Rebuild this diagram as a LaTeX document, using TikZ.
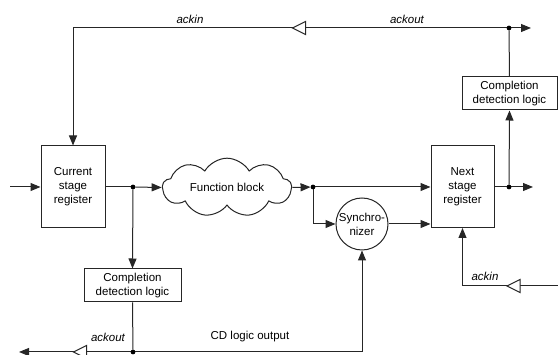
\documentclass[tikz,border=0pt]{standalone}
\usepackage{fontspec}
\setmainfont{Liberation Sans}
\usetikzlibrary{arrows.meta,shapes.symbols,shapes.geometric}
\begin{document}
\begin{tikzpicture}[x=1pt,y=-1pt,
  font=\fontsize{11.5}{14}\selectfont,
  wire/.style={line width=1pt,draw=black!85},
  arr/.style={wire,-{Triangle[length=10pt,width=8pt]}},
  block/.style={wire,rectangle,fill=white,inner sep=0pt,align=center},
  dot/.style={circle,fill=black,inner sep=0pt,minimum size=4.5pt},
  lbl/.style={font=\fontsize{11.5}{14}\selectfont\itshape},
  buffer/.pic={\draw[wire,fill=white] (6.5,-6.5) -- (6.5,6.5) -- (-6.5,0) -- cycle;}]
\useasboundingbox (0,0) rectangle (558,355);

% blocks
\node[block,minimum width=64pt,minimum height=82pt] (cur) at (73,187) {Current\\stage\\register};
\node[block,minimum width=97pt,minimum height=33pt] (cdl) at (132.5,285.5) {Completion\\detection logic};
\node[wire,cloud,cloud puffs=9,cloud puff arc=120,aspect=2.6,inner sep=0pt,
      minimum width=129pt,minimum height=50pt] (fb) at (227,187.5) {Function block};
\node[wire,circle,minimum size=52pt,inner sep=0pt,align=center] (sync) at (362,224) {Synchro-\\nizer};
\node[block,minimum width=63pt,minimum height=82pt] (nxt) at (462.5,186.5) {Next\\stage\\register};
\node[block,minimum width=95pt,minimum height=33pt] (cdu) at (509.5,93.5) {Completion\\detection logic};

% junctions and free ends
\node[dot] (j1) at (133,187) {};
\node[dot] (j2) at (313,187) {};
\node[dot] (j3) at (509,187) {};
\node[dot] (j4) at (509,28) {};
\node[dot] (j5) at (133,352) {};
\coordinate (in) at (10,187);
\coordinate (outR) at (533,187);
\coordinate (topR) at (531,28);
\coordinate (botL) at (19,352);
\coordinate (ackR) at (560,286);

% data path
\draw[arr] (in) -- (cur.west);
\draw[wire] (cur.east) -- (j1);
\draw[arr] (j1) -- (fb.west);
\draw[arr] (fb.east) -- (j2);
\draw[arr] (j2) -- (nxt.west |- j2);
\draw[arr] (j2) |- (sync.west);
\draw[arr] (sync.east) -- (nxt.west |- sync.east);
\draw[wire] (nxt.east |- j3) -- (j3);
\draw[arr] (j3) -- (outR);

% completion detection, current stage
\draw[arr] (j1) -- (cdl.north);
\draw[wire] (cdl.south) -- (j5);
\draw[arr] (j5) -- (botL);
\draw[arr] (j5) -| (sync.south);
\pic at (80,352) {buffer};

% completion detection, next stage
\draw[arr] (j3) -- (cdu.south);
\draw[wire] (cdu.north) -- (j4);
\draw[arr] (j4) -- (topR);
\draw[arr] (j4) -| (cur.north);
\pic at (299,28) {buffer};

% acknowledge into the next stage
\draw[arr] (ackR) -| (nxt.south);
\pic at (513.5,286) {buffer};

% junction dots on top of the wires
\foreach \j in {j1,j2,j3,j4,j5} \fill (\j) circle (2.3pt);

% labels
\node[lbl] (l1) at (190,19) {ackin};
\node[lbl] (l2) at (407,19) {ackout};
\node[lbl] (l3) at (108,337) {ackout};
\node (l4) at (250,337) {CD logic output};
\node[lbl] (l5) at (485,276) {ackin};
\end{tikzpicture}
\end{document}
